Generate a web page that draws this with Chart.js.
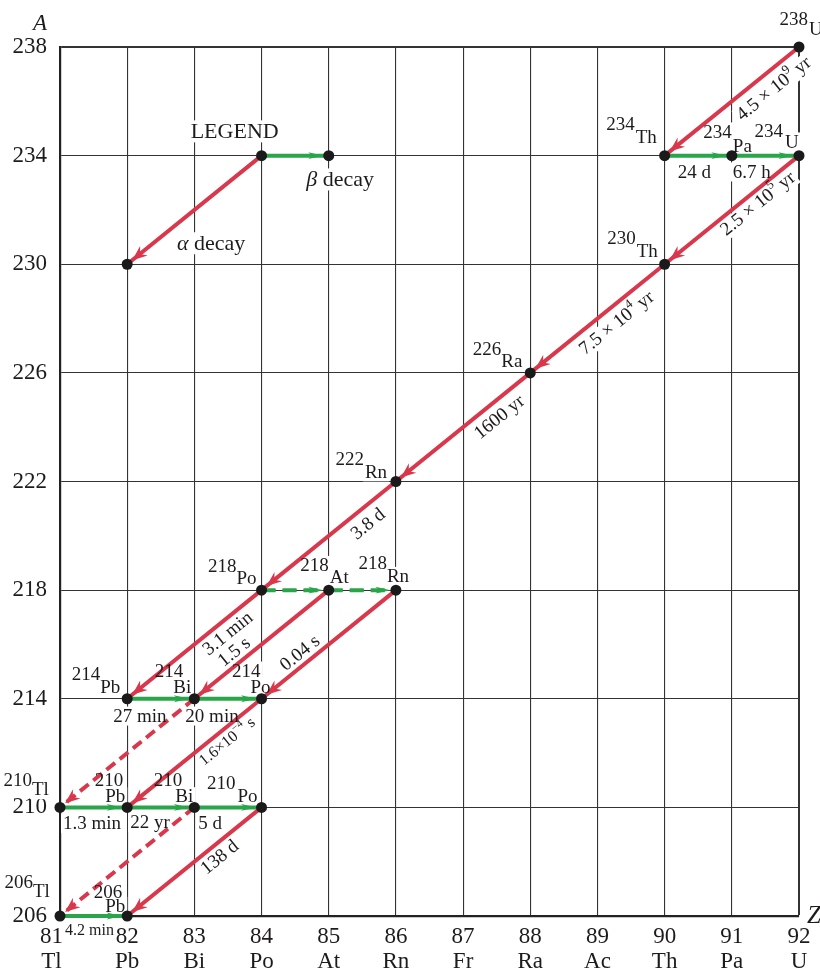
<!DOCTYPE html>
<html>
<head>
<meta charset="utf-8">
<script src="https://cdn.jsdelivr.net/npm/chart.js@4.4.1/dist/chart.umd.min.js"></script>
<style>
  html, body { margin: 0; padding: 0; background: #fff; }
  #wrap { width: 820px; height: 972px; position: relative; }
</style>
</head>
<body>
<div id="wrap"><canvas id="chart"></canvas></div>
<script>
// axis categories
var zValues = [81, 82, 83, 84, 85, 86, 87, 88, 89, 90, 91, 92];
var elementSymbols = ['Tl', 'Pb', 'Bi', 'Po', 'At', 'Rn', 'Fr', 'Ra', 'Ac', 'Th', 'Pa', 'U'];
var massMin = 206;
var massMax = 238;
var massStep = 4;

// nuclides of the U-238 chain
var nuclideName = ['U', 'Th', 'Pa', 'U', 'Th', 'Ra', 'Rn', 'Po', 'At', 'Rn', 'Pb', 'Bi', 'Po', 'Tl', 'Pb', 'Bi', 'Po', 'Tl', 'Pb'];
var nuclideZ = [92, 90, 91, 92, 90, 88, 86, 84, 85, 86, 82, 83, 84, 81, 82, 83, 84, 81, 82];
var nuclideA = [238, 234, 234, 234, 230, 226, 222, 218, 218, 218, 214, 214, 214, 210, 210, 210, 210, 206, 206];

// alpha decays (index into nuclides)
var alphaFrom = [0, 3, 4, 5, 6, 7, 8, 9, 12, 16, 11, 15];
var alphaTo = [1, 4, 5, 6, 7, 10, 11, 12, 14, 18, 13, 17];
var alphaHalfLife = ['4.5 × 10^9 yr', '2.5 × 10^5 yr', '7.5 × 10^4 yr', '1600 yr', '3.8 d', '3.1 min', '1.5 s', '0.04 s', '1.6×10^−4 s', '138 d', '', ''];
var alphaDashed = [false, false, false, false, false, false, false, false, false, false, true, true];

// beta decays
var betaFrom = [1, 2, 10, 11, 13, 14, 15, 17, 7, 8];
var betaTo = [2, 3, 11, 12, 14, 15, 16, 18, 8, 9];
var betaHalfLife = ['24 d', '6.7 h', '27 min', '20 min', '1.3 min', '22 yr', '5 d', '4.2 min', '', ''];
var betaDashed = [false, false, false, false, false, false, false, false, true, true];

// legend sample: start, alpha end, beta end
var legendZ = [84, 82, 85];
var legendA = [234, 230, 234];
var legendText = ['LEGEND', '*α* decay', '*β* decay'];

// ---- layout (pixel offsets, not data) ----
// [mass right dx, mass baseline dy, symbol left dx, symbol baseline dy]
var nuclideLabelLayout = [
  [9, -22, 10, -12], [-30, -26, -29, -13], [0, -18, 1, -4], [-16, -19, -14, -8],
  [-29, -20, -28, -7], [-29, -18, -29, -6], [-32, -17, -31, -4], [-25, -18, -25, -6],
  [0, -19, 1, -7], [-9, -21, -9, -8], [-27, -19, -27, -6], [-11, -22, -21, -6],
  [-1, -22, -11, -6], [-28, -21, -28, -12], [-4, -21, -22, -5], [-12, -21, -19, -5],
  [-26, -18, -24, -5], [-27, -28, -27, -19], [-5, -18, -22, -4]
];
// [fraction along arrow, perpendicular offset, font size]
var alphaLabelLayout = [
  [0.265, 17, 19], [0.36, 12, 19], [0.43, 16, 19], [0.30, 15.5, 19], [0.28, 16, 19],
  [0.31, 13, 19], [0.65, -11, 19], [0.66, -11, 19], [0.31, 12, 16], [0.37, 13, 19]
];
// [left dx from start dot, baseline dy, font size]
var betaLabelLayout = [
  [13, 22, 19], [1, 22, 19], [-14, 23, 19], [-9, 23, 19],
  [3, 22, 19], [3, 21, 19], [4, 22, 19], [5, 19, 16]
];
// legend text anchors in Z/A units
var legendTextPos = [[83.6, 234.65], [83.25, 230.53], [85.17, 232.88]];

var FONT = "'Liberation Serif', 'Times New Roman', serif";
var textColor = '#1e1b1c';
var alphaColor = '#d9374b';
var betaColor = '#2aa54a';
var betaCoreColor = '#0a6532';
var betaHeadColor = '#27a549';
var gridColor = '#333';

function arrowDataset(z1, a1, z2, a2, color, width, dash) {
  return {
    data: [{ x: z1, y: a1 }, { x: z2, y: a2 }],
    showLine: true,
    borderColor: color,
    borderWidth: width,
    borderDash: dash,
    pointRadius: 0,
    clip: false,
    order: 1
  };
}

var datasets = [];
alphaFrom.forEach(function (f, i) {
  var t = alphaTo[i];
  datasets.push(arrowDataset(nuclideZ[f], nuclideA[f], nuclideZ[t], nuclideA[t], alphaColor, 4, alphaDashed[i] ? [11, 6] : []));
});
betaFrom.forEach(function (f, i) {
  var t = betaTo[i];
  var dash = betaDashed[i] ? [14, 7] : [];
  datasets.push(arrowDataset(nuclideZ[f], nuclideA[f], nuclideZ[t], nuclideA[t], betaColor, 4, dash));
  datasets.push(arrowDataset(nuclideZ[f], nuclideA[f], nuclideZ[t], nuclideA[t], betaCoreColor, 2, dash));
});
datasets.push(arrowDataset(legendZ[0], legendA[0], legendZ[1], legendA[1], alphaColor, 4, []));
datasets.push(arrowDataset(legendZ[0], legendA[0], legendZ[2], legendA[2], betaColor, 4, []));
datasets.push(arrowDataset(legendZ[0], legendA[0], legendZ[2], legendA[2], betaCoreColor, 2, []));

var dots = [];
nuclideZ.forEach(function (z, i) { dots.push({ x: z, y: nuclideA[i] }); });
legendZ.forEach(function (z, i) { dots.push({ x: z, y: legendA[i] }); });
datasets.push({
  data: dots,
  pointRadius: 5.5,
  pointBackgroundColor: '#1a1a1a',
  pointBorderWidth: 0,
  showLine: false,
  clip: false,
  order: 0
});

function parseRich(str) {
  var out = [];
  str.split(/(\^\S+|\*[^*]+\*)/).forEach(function (s) {
    if (!s) return;
    if (s[0] === '^') out.push({ t: s.slice(1), sup: true });
    else if (s[0] === '*') out.push({ t: s.slice(1, -1), it: true });
    else out.push({ t: s });
  });
  return out;
}

function partFont(p, size) {
  return (p.it ? 'italic ' : '') + (p.sup ? Math.round(size * 0.66) : size) + 'px ' + FONT;
}

function drawText(ctx, item, halo) {
  var parts = parseRich(item.str);
  var w = 0;
  parts.forEach(function (p) {
    ctx.font = partFont(p, item.size);
    p.w = ctx.measureText(p.t).width;
    w += p.w;
  });
  var x0 = item.align === 'right' ? -w : (item.align === 'center' ? -w / 2 : 0);
  var s = item.size;
  ctx.save();
  ctx.translate(item.x, item.y);
  if (item.angle) ctx.rotate(item.angle);
  ctx.textBaseline = item.baseline || 'alphabetic';
  if (halo) {
    ctx.fillStyle = '#fff';
    if (ctx.textBaseline === 'middle') ctx.fillRect(x0 - 2, -s * 0.5, w + 4, s);
    else ctx.fillRect(x0 - 2, -s * 0.8, w + 4, s * 1.0);
  } else {
    ctx.fillStyle = textColor;
    parts.forEach(function (p) {
      ctx.font = partFont(p, s);
      ctx.fillText(p.t, x0, p.sup ? -s * 0.38 : 0);
      x0 += p.w;
    });
  }
  ctx.restore();
}

function textItems(chart) {
  var xs = chart.scales.x, ys = chart.scales.y, area = chart.chartArea;
  var items = [];
  nuclideZ.forEach(function (z, i) {
    var px = xs.getPixelForValue(z), py = ys.getPixelForValue(nuclideA[i]);
    var l = nuclideLabelLayout[i];
    items.push({ str: String(nuclideA[i]), x: px + l[0], y: py + l[1], size: 19, align: 'right' });
    items.push({ str: nuclideName[i], x: px + l[2], y: py + l[3], size: 19, align: 'left' });
  });
  alphaFrom.forEach(function (f, i) {
    if (!alphaHalfLife[i]) return;
    var t = alphaTo[i], l = alphaLabelLayout[i];
    var sx = xs.getPixelForValue(nuclideZ[f]), sy = ys.getPixelForValue(nuclideA[f]);
    var dx = xs.getPixelForValue(nuclideZ[t]) - sx, dy = ys.getPixelForValue(nuclideA[t]) - sy;
    var L = Math.hypot(dx, dy), ux = dx / L, uy = dy / L;
    items.push({
      str: alphaHalfLife[i],
      x: sx + ux * l[0] * L + uy * l[1],
      y: sy + uy * l[0] * L - ux * l[1],
      size: l[2], align: 'center', baseline: 'middle',
      angle: Math.atan2(-uy, -ux)
    });
  });
  betaFrom.forEach(function (f, i) {
    if (!betaHalfLife[i]) return;
    var l = betaLabelLayout[i];
    items.push({
      str: betaHalfLife[i],
      x: xs.getPixelForValue(nuclideZ[f]) + l[0],
      y: ys.getPixelForValue(nuclideA[f]) + l[1],
      size: l[2], align: 'left'
    });
  });
  legendText.forEach(function (s, i) {
    items.push({
      str: s,
      x: xs.getPixelForValue(legendTextPos[i][0]),
      y: ys.getPixelForValue(legendTextPos[i][1]),
      size: 22, align: 'center'
    });
  });
  items.push({ str: '*A*', x: area.left - 20, y: area.top - 17, size: 23, align: 'center' });
  items.push({ str: '*Z*', x: area.right + 8, y: area.bottom + 7, size: 25, align: 'left' });
  return items;
}

function drawHead(ctx, sx, sy, ex, ey, back, len, half, notch, color) {
  var dx = ex - sx, dy = ey - sy, L = Math.hypot(dx, dy), ux = dx / L, uy = dy / L;
  var tx = ex - ux * back, ty = ey - uy * back;
  ctx.beginPath();
  ctx.moveTo(tx, ty);
  ctx.lineTo(tx - ux * len - uy * half, ty - uy * len + ux * half);
  ctx.lineTo(tx - ux * notch, ty - uy * notch);
  ctx.lineTo(tx - ux * len + uy * half, ty - uy * len - ux * half);
  ctx.closePath();
  ctx.fillStyle = color;
  ctx.fill();
}

var decayLabels = {
  id: 'decayLabels',
  beforeDatasetsDraw: function (chart) {
    var ctx = chart.ctx;
    textItems(chart).forEach(function (t) { drawText(ctx, t, true); });
  },
  afterDatasetsDraw: function (chart) {
    var ctx = chart.ctx, xs = chart.scales.x, ys = chart.scales.y;
    ctx.save();
    function head(z1, a1, z2, a2, isAlpha) {
      var sx = xs.getPixelForValue(z1), sy = ys.getPixelForValue(a1);
      var ex = xs.getPixelForValue(z2), ey = ys.getPixelForValue(a2);
      if (isAlpha) drawHead(ctx, sx, sy, ex, ey, 6.5, 15, 6, 10, alphaColor);
      else drawHead(ctx, sx, sy, ex, ey, 5.5, 15, 3.4, 11, betaHeadColor);
    }
    alphaFrom.forEach(function (f, i) {
      head(nuclideZ[f], nuclideA[f], nuclideZ[alphaTo[i]], nuclideA[alphaTo[i]], true);
    });
    betaFrom.forEach(function (f, i) {
      head(nuclideZ[f], nuclideA[f], nuclideZ[betaTo[i]], nuclideA[betaTo[i]], false);
    });
    head(legendZ[0], legendA[0], legendZ[1], legendA[1], true);
    head(legendZ[0], legendA[0], legendZ[2], legendA[2], false);
    ctx.restore();
    textItems(chart).forEach(function (t) { drawText(ctx, t, false); });
  }
};

new Chart(document.getElementById('chart'), {
  type: 'scatter',
  data: { datasets: datasets },
  options: {
    responsive: true,
    maintainAspectRatio: false,
    animation: false,
    events: [],
    layout: { padding: { top: 47, right: 21, left: 0, bottom: 0 } },
    plugins: { legend: { display: false }, tooltip: { enabled: false } },
    scales: {
      x: {
        type: 'linear',
        min: zValues[0],
        max: zValues[zValues.length - 1],
        afterFit: function (s) { s.height = 56; },
        ticks: {
          stepSize: 1,
          autoSkip: false,
          maxRotation: 0,
          padding: 8,
          color: textColor,
          font: { family: FONT, size: 23, lineHeight: 1.09 },
          callback: function (v) {
            var i = zValues.indexOf(v);
            if (i < 0) return '';
            // first label sits a little left of its grid line, as in the source
            var pad = i === 0 ? '   ' : '';
            return [String(v) + pad, elementSymbols[i] + pad];
          }
        },
        grid: {
          color: gridColor,
          drawTicks: false,
          lineWidth: function (c) { return c.tick && c.tick.value === 92 ? 2 : 1.1; }
        },
        border: { color: '#222', width: 2.2 }
      },
      y: {
        type: 'linear',
        min: massMin,
        max: massMax,
        afterFit: function (s) { s.width = 60; },
        ticks: {
          stepSize: massStep,
          padding: 13,
          color: textColor,
          font: { family: FONT, size: 23 }
        },
        grid: {
          color: gridColor,
          drawTicks: false,
          lineWidth: function (c) { return c.tick && c.tick.value === 238 ? 2 : 1.1; }
        },
        border: { color: '#222', width: 2.2 }
      }
    }
  },
  plugins: [decayLabels]
});
</script>
</body>
</html>
